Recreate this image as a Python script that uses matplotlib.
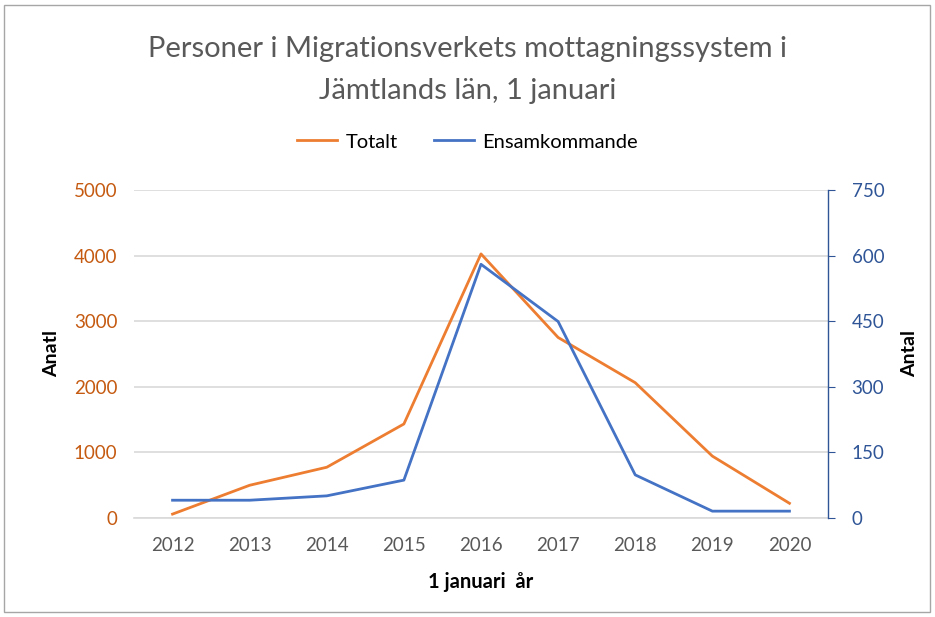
import matplotlib
matplotlib.use("Agg")
import matplotlib.pyplot as plt
from matplotlib.patches import Rectangle

plt.rcParams['font.family'] = ['Lato', 'DejaVu Sans']

years = ['2012', '2013', '2014', '2015', '2016', '2017', '2018', '2019', '2020']
totalt = [55, 495, 770, 1430, 4025, 2750, 2060, 940, 220]
ensamkommande = [40, 40, 50, 86, 580, 449, 98, 15, 15]

orange = '#ED7D31'
blue = '#4472C4'
gray = '#595959'

fig = plt.figure(figsize=(9.35, 6.17), dpi=100)
ax = fig.add_axes([134/935, 1-517.7/617, 694/935, 327.7/617])
ax2 = ax.twinx()

x = range(len(years))
l1, = ax.plot(x, totalt, color=orange, lw=2.0, label='Totalt')
l2, = ax2.plot(x, ensamkommande, color=blue, lw=2.0, label='Ensamkommande')

ax.set_xlim(-0.5, len(years) - 0.5)
ax.set_ylim(0, 5000)
ax.set_yticks(range(0, 5001, 1000))
ax2.set_ylim(0, 750)
ax2.set_yticks(range(0, 751, 150))
ax.set_xticks(list(x))
ax.set_xticklabels(years)

ax.grid(axis='y', color='#d9d9d9', lw=1.2)
ax.set_axisbelow(True)
for s in ['top', 'left', 'right']:
    ax.spines[s].set_visible(False)
ax.spines['bottom'].set_color('#d9d9d9')
ax.spines['bottom'].set_linewidth(1.2)
for s in ['top', 'left', 'bottom']:
    ax2.spines[s].set_visible(False)
ax2.spines['right'].set_color('#2F5597')
ax2.spines['right'].set_linewidth(1.0)

ax.tick_params(axis='y', length=0, colors='#C55A11', labelsize=13.5, pad=12)
ax.tick_params(axis='x', length=0, colors=gray, labelsize=13.5, pad=14)
ax2.tick_params(axis='y', length=5, direction='out', color='#2F5597', labelcolor='#2F5597', labelsize=13.5, pad=12)

ax.set_ylabel('Anatl', fontsize=14, fontweight='bold', labelpad=10)
ax2.set_ylabel('Antal', fontsize=14, fontweight='bold', rotation=90, labelpad=12)
ax.set_xlabel('1 januari  år', fontsize=14.5, fontweight='bold', labelpad=13)

fig.text(0.5, 1-49/617, 'Personer i Migrationsverkets mottagningssystem i',
         ha='center', va='center', fontsize=21, color=gray)
fig.text(0.5, 1-91/617, 'Jämtlands län, 1 januari',
         ha='center', va='center', fontsize=21, color=gray)

fig.legend(handles=[l1, l2], loc='center', bbox_to_anchor=(0.5, 1-142/617),
           ncol=2, frameon=False, fontsize=14.5, handlelength=2.0, columnspacing=1.8,
           handletextpad=0.4)

fig.patches.append(Rectangle((4/935, 5/617), 926/935, 607/617, transform=fig.transFigure,
                             fill=False, edgecolor='#a6a6a6', lw=1.0))

fig.savefig('out.png', dpi=100)
